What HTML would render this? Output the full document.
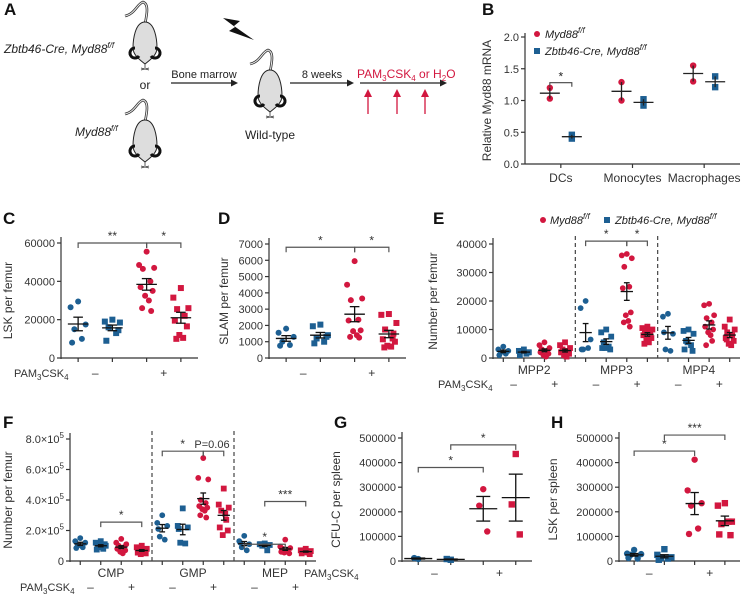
<!DOCTYPE html>
<html><head><meta charset="utf-8"><style>
html,body{margin:0;padding:0;background:#fff;}
svg{display:block;font-family:"Liberation Sans",sans-serif;}
</style></head><body>
<svg id="fig" width="742" height="600" viewBox="0 0 742 600" xmlns="http://www.w3.org/2000/svg">
<g id="panelA"></g>
</svg>
<script>
// ---------- DATA ----------
const bCategories = ['DCs','Monocytes','Macrophages'];
const bMyd = [[1.2,1.03],[1.29,1.0],[1.55,1.3]];
const bZbt = [[0.40,0.46],[1.02,0.92],[1.38,1.21]];
const bTicks = [0,0.5,1.0,1.5,2.0];
const bTickLabels = ['0.0','0.5','1.0','1.5','2.0'];

const cValues = [
 [29500,26500,17500,15000,10000,8000],
 [20000,19000,18500,16000,13000,9000,14500],
 [55500,48500,47000,46500,40000,37000,35000,32500,30000,26000,24500],
 [36500,31500,26000,25500,22000,19500,16500,12000,10500,10000]];
const cTicks = [0,20000,40000,60000];
const cTickLabels = ['0','20000','40000','60000'];

const dValues = [
 [1800,1550,1300,1000,800,750],
 [2050,1950,1400,1200,1000,900,1300],
 [5950,4500,3650,3550,2350,2300,1700,1650,1400,1300,1250],
 [2700,2650,2150,1750,1200,1150,1000,750,700,650,1500]];
const dTicks = [0,1000,2000,3000,4000,5000,6000,7000];
const dTickLabels = ['0','1000','2000','3000','4000','5000','6000','7000'];

const eCategories = ['MPP2','MPP3','MPP4'];
const eValues = [
 [4000,3000,2500,2000,1500,1000],
 [3000,2500,2000,2500,1500,1000,2000],
 [5500,4500,3500,3000,2500,2000,1500,1000,500,3000],
 [5500,4500,3500,3000,2500,2000,1500,1000,500,2000],
 [20000,17500,6500,3000,3500,3000],
 [10000,9000,7500,5500,4000,3500,3000,3500],
 [36500,36000,35000,32000,25000,24500,16000,15000,13000,12500,11000],
 [11000,10500,10000,9500,9000,8000,7000,6500,5500,5000,9000],
 [15500,14500,8500,3000,2500,9000],
 [10000,9500,8500,6000,4500,3000,2500,5500],
 [19000,18500,15000,14000,12500,11000,10000,9000,8000,4500,6000],
 [13500,11000,10000,9000,8000,7000,6000,5000,4500,6500]];
const eTicks = [0,10000,20000,30000,40000];
const eTickLabels = ['0','10000','20000','30000','40000'];

const fCategories = ['CMP','GMP','MEP'];
const fValues = [
 [1.5,1.3,1.2,1.0,0.9,0.85],
 [1.3,1.2,1.0,0.9,0.8,0.75,1.1,0.95],
 [1.45,1.2,1.1,1.0,0.9,0.8,0.7,0.6,0.5,0.85],
 [1.0,0.9,0.8,0.7,0.6,0.55,0.5,0.45,0.65,0.75],
 [3.0,2.5,2.3,1.6,1.4,2.1],
 [3.45,2.3,2.2,1.2,1.15,2.1],
 [6.75,5.45,5.35,4.0,3.8,3.6,3.5,3.4,3.3,3.0,2.85],
 [4.75,3.7,3.5,3.3,2.7,2.2,2.0,1.7,3.1],
 [1.65,1.3,1.1,0.9,0.7,1.2],
 [1.15,1.1,1.05,1.0,0.7,1.1],
 [1.4,0.95,0.85,0.8,0.7,0.6,0.5,0.55,0.75],
 [0.8,0.7,0.65,0.6,0.55,0.5,0.45,0.7,0.6]];
const fTicks = [0,2,4,6,8];
const fTickLabels = ['0','2.0×10','4.0×10','6.0×10','8.0×10'];

const gValues = [[8000,12000],[5000,8000],[292000,225000,120000],[435000,230000,108000]];
const gTicks = [0,100000,200000,300000,400000,500000];
const gTickLabels = ['0','100000','200000','300000','400000','500000'];

const hValues = [
 [45000,30000,28000,25000,10000,12000],
 [48000,25000,15000,12000,10000,5000],
 [412000,287000,235000,225000,132000,110000],
 [235000,225000,160000,150000,160000,108000,105000]];
const hTicks = [0,100000,200000,300000,400000,500000];
const hTickLabels = ['0','100000','200000','300000','400000','500000'];

// ---------- HELPERS ----------
const NS='http://www.w3.org/2000/svg';
const RED='#d2173f', BLUE='#1d5f92', AX='#333', TXT='#333';
const svg=document.getElementById('fig');
function mk(tag,attrs,parent,text){const e=document.createElementNS(NS,tag);for(const k in attrs)e.setAttribute(k,attrs[k]);if(text!==undefined)e.textContent=text;(parent||svg).appendChild(e);return e;}
function mean(a){return a.reduce((s,v)=>s+v,0)/a.length;}
function sem(a){const m=mean(a);const sd=Math.sqrt(a.reduce((s,v)=>s+(v-m)*(v-m),0)/(a.length-1));return sd/Math.sqrt(a.length);}
function jitter(i,n,w){if(n<=1)return 0;const pat=[0,-1,1,-0.5,0.5,-0.8,0.8,-0.2,0.3,-0.6,0.6,0.1];return pat[i%pat.length]*w;}

function marker(g,shape,color,x,y,r,name){
  let e;
  if(shape==='c'){e=mk('circle',{cx:x,cy:y,r:r,fill:color},g);}
  else{e=mk('rect',{x:x-r,y:y-r,width:2*r,height:2*r,fill:color},g);}
  
  
  return e;
}

function letter(t,x,y){const e=mk('text',{x:x,y:y,'font-size':17,'font-weight':'bold',fill:'#111'},svg,t);
  
  }

function pamLabel(g,x,y,anchor){
  const t=mk('text',{x:x,y:y,'font-size':11,fill:TXT,'text-anchor':anchor||'start'},g);
  
  
  mk('tspan',{},t,'PAM');mk('tspan',{'font-size':8,dy:3},t,'3');mk('tspan',{dy:-3},t,'CSK');mk('tspan',{'font-size':8,dy:3},t,'4');
}

// generic scatter panel
function panel(o){
  const g=mk('g',{});
  
  
  const ys=v=>o.B-(v/o.max)*(o.B-o.T);
  const n=o.values.length, band=(o.R-o.L)/n;
  const xs=i=>o.L+(i+0.5)*band;
  const ya=mk('line',{x1:o.L,y1:o.T-6,x2:o.L,y2:o.B+1,stroke:AX,'stroke-width':1.2},g);
  
  const xa=mk('line',{x1:o.L,y1:o.B,x2:o.R,y2:o.B,stroke:AX,'stroke-width':1.2},g);
  
  o.ticks.forEach((t,i)=>{
    const y=ys(t);
    mk('line',{x1:o.L-4,y1:y,x2:o.L,y2:y,stroke:AX,'stroke-width':1.2},g);
    const tl=mk('text',{x:o.L-6,y:y+4,'font-size':o.tfs||11,fill:TXT,'text-anchor':'end'},g,o.tickLabels[i]);
    
    if(o.sup&&i>0){mk('tspan',{'font-size':8,dy:-5},tl,'5');}
  });
  for(let i=0;i<n;i++){mk('line',{x1:xs(i),y1:o.B,x2:xs(i),y2:o.B+4,stroke:AX,'stroke-width':1.2},g);}
  const yl=mk('text',{x:0,y:0,'font-size':12,fill:TXT,'text-anchor':'middle',transform:`translate(${o.ylx},${(o.T+o.B)/2}) rotate(-90)`},g,o.ylabel);
  
  const styles=[[BLUE,'c'],[BLUE,'s'],[RED,'c'],[RED,'s']];
  o.values.forEach((vals,i)=>{
    const [col,sh]=styles[i%4];
    const cx=xs(i);
    vals.forEach((v,j)=>marker(g,sh,col,cx+jitter(j,vals.length,o.jw||band*0.22),ys(v),o.r||3,'data-point'));
    const m=mean(vals),s=sem(vals),mw=o.mw||band*0.3,cw=o.cw||band*0.14;
    const ml=mk('line',{x1:cx-mw,y1:ys(m),x2:cx+mw,y2:ys(m),stroke:'#111','stroke-width':1.3},g);
    
    mk('line',{x1:cx,y1:ys(m+s),x2:cx,y2:ys(m-s),stroke:'#111','stroke-width':1.3},g);
    mk('line',{x1:cx-cw,y1:ys(m+s),x2:cx+cw,y2:ys(m+s),stroke:'#111','stroke-width':1.3},g);
    mk('line',{x1:cx-cw,y1:ys(m-s),x2:cx+cw,y2:ys(m-s),stroke:'#111','stroke-width':1.3},g);
  });
  (o.brackets||[]).forEach(b=>{
    const y=ys(b[2]),x1=xs(b[0]),x2=xs(b[1]);
    const p=mk('path',{d:`M${x1},${y+5}V${y}H${x2}V${y+5}`,fill:'none',stroke:'#555','stroke-width':1.2},g);
    
    const t=mk('text',{x:b[4]!==undefined?b[4]:(x1+x2)/2,y:y-3,'font-size':b[3].length>3?11:12,fill:TXT,'text-anchor':'middle'},g,b[3]);
    
  });
  (o.dashes||[]).forEach(k=>{
    const x=o.L+k*band;
    const d=mk('line',{x1:x,y1:o.T-8,x2:x,y2:o.B,stroke:'#444','stroke-width':1.2,'stroke-dasharray':'4,3'},g);
    
  });
  if(o.cats){const per=n/o.cats.length;o.cats.forEach((c,k)=>{
    const t=mk('text',{x:o.L+(k+0.5)*per*band,y:o.B+16,'font-size':12,fill:TXT,'text-anchor':'middle'},g,c);
    });}
  const sy=o.B+(o.cats?30:(o.sy||20));
  for(let k=0;k<n/4;k++){
    const base=k*4;
    const a=mk('text',{x:(xs(base)+xs(base+1))/2,y:sy,'font-size':12,fill:TXT,'text-anchor':'middle'},g,'–');
    
    const b=mk('text',{x:(xs(base+2)+xs(base+3))/2,y:sy,'font-size':12,fill:TXT,'text-anchor':'middle'},g,'+');
    
  }
  if(o.pamx!==undefined)pamLabel(g,o.pamx,sy);
  return g;
}

// ---------- PANEL A ----------
const A=document.getElementById('panelA');
function mouse(cx,top){
  const g=mk('g',{},A);
  
  mk('path',{d:`M${cx},${top+2} C${cx+2},${top-8} ${cx+4},${top-18} ${cx-2},${top-20} C${cx-8},${top-18} ${cx-10},${top-8} ${cx-20},${top-6}`,fill:'none',stroke:'#333','stroke-width':2.6},g);
  mk('path',{d:`M${cx},${top+2} C${cx+2},${top-8} ${cx+4},${top-18} ${cx-2},${top-20} C${cx-8},${top-18} ${cx-10},${top-8} ${cx-20},${top-6}`,fill:'none',stroke:'#eee','stroke-width':1},g);
  mk('path',{d:`M${cx},${top} C${cx+10},${top} ${cx+12},${top+18} ${cx+12},${top+26} C${cx+12},${top+33} ${cx+5},${top+38} ${cx},${top+42} C${cx-5},${top+38} ${cx-12},${top+33} ${cx-12},${top+26} C${cx-12},${top+18} ${cx-10},${top} ${cx},${top}Z`,fill:'#ddd',stroke:'#222','stroke-width':1},g);
  mk('path',{d:`M${cx-6},${top+34} a5,5 0 1,1 -4,-8`,fill:'none',stroke:'#111','stroke-width':3},g);
  mk('path',{d:`M${cx+6},${top+34} a5,5 0 1,0 4,-8`,fill:'none',stroke:'#111','stroke-width':3},g);
  mk('path',{d:`M${cx-4},${top+46} L${cx+4},${top+48} M${cx-4},${top+48} L${cx+4},${top+46} M${cx},${top+42} V${top+46}`,fill:'none',stroke:'#333','stroke-width':0.8},g);
}
mouse(145,22);mouse(145,120);mouse(270,70);
function txt(x,y,s,attrs,name,parent){const t=mk('text',Object.assign({x:x,y:y,'font-size':12,fill:'#222'},attrs||{}),parent||A,s);
  return t;}
let t1=txt(4,53,'Zbtb46-Cre, Myd88',{'font-style':'italic'},'donor-knockout-label');mk('tspan',{'font-size':8,dy:-5},t1,'f/f');
txt(145,89,'or',{'text-anchor':'middle'},'or-label');
let t2=txt(75,136,'Myd88',{'font-style':'italic'},'donor-control-label');mk('tspan',{'font-size':8,dy:-5},t2,'f/f');
txt(204,78,'Bone marrow',{'text-anchor':'middle','font-size':11},'bone-marrow-label');
txt(270,139,'Wild-type',{'text-anchor':'middle'},'recipient-label');
txt(322,78,'8 weeks',{'text-anchor':'middle','font-size':11},'weeks-label');
function arrow(x1,x2,y,col){mk('line',{x1:x1,y1:y,x2:x2-6,y2:y,stroke:col,'stroke-width':1.3},A);mk('path',{d:`M${x2},${y} l-7,-3.5 v7z`,fill:col},A);}
arrow(171,238,83,'#222');arrow(290,354,83,'#222');arrow(360,447,83,'#222');
let t3=txt(357,78,'PAM',{fill:RED,'font-size':12},'treatment-label');
mk('tspan',{'font-size':8,dy:3},t3,'3');mk('tspan',{dy:-3},t3,'CSK');mk('tspan',{'font-size':8,dy:3},t3,'4');mk('tspan',{dy:-3},t3,' or H');mk('tspan',{'font-size':8,dy:3},t3,'2');mk('tspan',{dy:-3},t3,'O');
[368,397,425].forEach(x=>{mk('line',{x1:x,y1:114,x2:x,y2:95,stroke:RED,'stroke-width':1.3},A);mk('path',{d:`M${x},${89} l-4,8 h8z`,fill:RED},A);});
const bolt=mk('path',{d:'M223,18 L240,21 L234,26 L254,40 L229,31 L235,27 Z',fill:'#111'},A);


// ---------- LETTERS ----------
letter('A',4,15);letter('B',482,15);letter('C',3,224);letter('D',218,224);letter('E',433,224);
letter('F',3,428);letter('G',334,428);letter('H',551,428);

// ---------- PANEL B ----------
(function(){
  const g=mk('g',{});
  const L=525,R=740,T=37,B=164,max=2.0;
  const ys=v=>B-v/max*(B-T);const band=(R-L)/bCategories.length;const xs=i=>L+(i+0.5)*band;
  mk('line',{x1:L,y1:T-4,x2:L,y2:B,stroke:AX,'stroke-width':1.2},g);
  mk('line',{x1:L,y1:B,x2:R,y2:B,stroke:AX,'stroke-width':1.2},g);
  bTicks.forEach((t,i)=>{mk('line',{x1:L-4,y1:ys(t),x2:L,y2:ys(t),stroke:AX,'stroke-width':1.2},g);
    const tl=mk('text',{x:L-6,y:ys(t)+4,'font-size':11,fill:TXT,'text-anchor':'end'},g,bTickLabels[i]);
    });
  bCategories.forEach((c,i)=>{mk('line',{x1:xs(i),y1:B,x2:xs(i),y2:B+4,stroke:AX,'stroke-width':1.2},g);
    const t=mk('text',{x:xs(i),y:B+18,'font-size':12,fill:TXT,'text-anchor':'middle'},g,c);
    });
  const yl=mk('text',{x:0,y:0,'font-size':12,fill:TXT,'text-anchor':'middle',transform:`translate(491,${(T+B)/2}) rotate(-90)`},g,'Relative Myd88 mRNA');
  
  [[bMyd,RED,'c',-11],[bZbt,BLUE,'s',11]].forEach(([ser,col,sh,off])=>{
    ser.forEach((vals,i)=>{const cx=xs(i)+off;
      vals.forEach(v=>marker(g,sh,col,cx,ys(v),3.2,'data-point'));
      const m=mean(vals),s=sem(vals);
      mk('line',{x1:cx-10,y1:ys(m),x2:cx+10,y2:ys(m),stroke:'#222','stroke-width':1.3},g);
      mk('line',{x1:cx,y1:ys(m+s),x2:cx,y2:ys(m-s),stroke:'#222','stroke-width':1.3},g);});
  });
  const y=ys(1.28),x1=xs(0)-11,x2=xs(0)+11;
  mk('path',{d:`M${x1},${y+4}V${y}H${x2}V${y+4}`,fill:'none',stroke:'#444','stroke-width':1.1},g);
  txt((x1+x2)/2,y-2,'*',{'text-anchor':'middle'},'significance-label',g);
  marker(g,'c',RED,537,34,3,'legend-marker-myd88');
  let l1=txt(545,38,'Myd88',{'font-style':'italic','font-size':11},'legend-entry-myd88',g);mk('tspan',{'font-size':8,dy:-5},l1,'f/f');
  marker(g,'s',BLUE,537,51,3,'legend-marker-zbtb46');
  let l2=txt(545,55,'Zbtb46-Cre, Myd88',{'font-style':'italic','font-size':11},'legend-entry-zbtb46',g);mk('tspan',{'font-size':8,dy:-5},l2,'f/f');
  marker(g,'c',RED,543,220,3,'legend-marker-myd88');
  let l3=txt(550,224,'Myd88',{'font-style':'italic','font-size':11},'legend-entry-myd88',g);mk('tspan',{'font-size':8,dy:-5},l3,'f/f');
  marker(g,'s',BLUE,607,220,3,'legend-marker-zbtb46');
  let l4=txt(615,224,'Zbtb46-Cre, Myd88',{'font-style':'italic','font-size':11},'legend-entry-zbtb46',g);mk('tspan',{'font-size':8,dy:-5},l4,'f/f');
})();

// ---------- PANELS C–H ----------
panel({name:'panel-c-lsk-femur',L:61,R:198,T:243,B:358,max:60000,values:cValues,ticks:cTicks,tickLabels:cTickLabels,
  ylabel:'LSK per femur',ylx:12,brackets:[[0,2,60000,'**'],[2,3,60000,'*']],pamx:14,r:3,sy:19});
panel({name:'panel-d-slam-femur',L:269,R:406,T:244,B:358,max:7000,values:dValues,ticks:dTicks,tickLabels:dTickLabels,
  ylabel:'SLAM per femur',ylx:228,brackets:[[0,2,6800,'*'],[2,3,6800,'*']],r:3,sy:19});
panel({name:'panel-e-mpp-femur',L:493,R:740,T:244,B:358,max:40000,values:eValues,ticks:eTicks,tickLabels:eTickLabels,
  ylabel:'Number per femur',ylx:437,cats:eCategories,dashes:[4,8],brackets:[[4,6,41000,'*'],[6,7,41000,'*']],pamx:438,r:2.9,jw:5});
panel({name:'panel-f-progenitors-femur',L:70,R:316,T:439,B:561,max:8,values:fValues,ticks:fTicks,tickLabels:fTickLabels,sup:true,
  ylabel:'Number per femur',ylx:12,cats:fCategories,dashes:[4,8],
  brackets:[[1,3,2.55,'*'],[4,6,7.2,'*'],[6,7,7.2,'P=0.06',212],[8,10,1.1,'*'],[9,11,3.9,'***']],pamx:20,r:2.9,jw:5});
panel({name:'panel-g-cfuc-spleen',L:402,R:532,T:438,B:561,max:500000,values:gValues,ticks:gTicks,tickLabels:gTickLabels,
  ylabel:'CFU-C per spleen',ylx:340,brackets:[[0,2,380000,'*'],[1,3,472000,'*']],pamx:304,r:3.2,jw:4,mw:14,cw:7,sy:16});
panel({name:'panel-h-lsk-spleen',L:619,R:740,T:438,B:561,max:500000,values:hValues,ticks:hTicks,tickLabels:hTickLabels,
  ylabel:'LSK per spleen',ylx:557,brackets:[[0,2,447000,'*'],[1,3,512000,'***']],r:3.2,jw:7,sy:16});
</script>
</body></html>
